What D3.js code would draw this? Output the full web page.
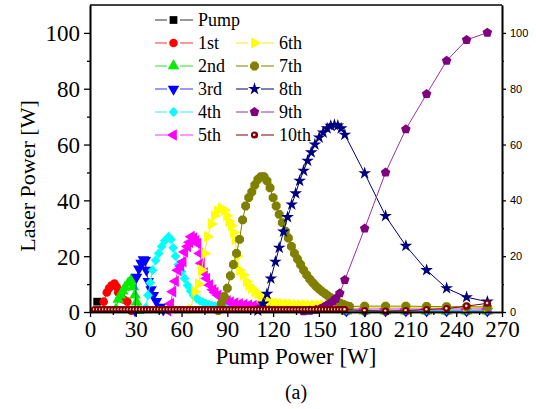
<!DOCTYPE html>
<html>
<head>
<meta charset="utf-8">
<script src="https://d3js.org/d3.v7.min.js"></script>
<style>
  body { margin: 0; background: #fff; }
</style>
</head>
<body>
<svg id="chart" width="536" height="409"></svg>
<script>
// series names (legend order)
var names = ["Pump", "1st", "2nd", "3rd", "4th", "5th", "6th", "7th", "8th", "9th", "10th"];

// [pump power W, laser power W]
var pump = [[4.7, 3.7]];
var s1 = [[9, 3.7], [11, 7], [12.5, 8.5], [14, 9.5], [16, 10.2], [17.5, 9], [18.5, 7], [20, 6], [22, 4.5], [24.5, 3.7], [27, 0.5],
          [168, 0.2], [180, 0.2], [193.7, 0.2], [207, 0.2], [220.6, 0.2], [233.7, 0.2], [246.8, 0.2], [260.4, 0.2]];
var s2 = [[17, 1], [18.5, 4.5], [20, 6], [21.5, 7.5], [23, 8.8], [25, 10.3], [27, 11.5], [28.5, 9], [29.5, 6], [30.5, 3.5], [32, 0.5],
          [168, 0.3], [180, 0.3], [193.7, 0.3], [207, 0.3], [220.6, 0.3], [233.7, 0.3], [246.8, 0.3], [260.4, 0.3]];
var s3 = [[29.5, 0.5], [30.5, 12.5], [32, 15.5], [33.5, 17.5], [35, 18.8], [36.2, 18.5], [37, 15], [38.2, 11], [40, 8], [41.5, 6],
          [43.5, 3.8], [46, 1.8], [48, 0.8],
          [168, 0.4], [180, 0.4], [193.7, 0.4], [207, 0.4], [220.6, 0.4], [233.7, 0.4], [246.8, 0.4], [260.4, 0.4]];
var s4 = [[36.5, 1.5], [38, 6], [39.5, 10.5], [41, 15], [43, 18.5], [45, 21], [47, 23.5], [49, 25.5], [51.5, 27], [53, 26],
          [54.5, 23], [56, 20], [58, 17], [60, 14.5], [62, 12], [64, 9.5], [66, 7.5], [68, 5.8], [70, 4.8], [72, 4],
          [74, 3.5], [76, 3], [78, 2.6], [80, 2.3], [82, 2.1], [84, 2], [86, 1.9], [88, 1.7], [90, 1.6], [92, 1.5],
          [168, 0.7], [180, 0.7], [193.7, 0.7], [207, 0.7], [220.6, 0.7], [233.7, 0.7], [246.8, 0.7], [260.4, 0.7]];
var s5 = [[51, 0.5], [52.8, 3], [54.3, 7.3], [56, 11], [57.6, 15], [59.5, 16.5], [61, 18], [62, 21.5], [64, 23.5], [65.3, 25],
          [66.4, 27], [68, 26.5], [69.5, 25.5], [70.7, 24.5], [72, 21], [73, 17.5], [75, 14], [76.5, 12], [78.4, 9.7], [80.6, 8],
          [82, 7], [84, 6], [86, 5.2], [88, 4.6], [90, 4], [92, 3.6], [95, 3.2], [98, 2.9], [101, 2.7], [104, 2.5],
          [107, 2.3], [110, 2.2], [113, 2.1], [116, 2], [119, 1.9], [122, 1.8],
          [168, 1.1], [180, 1.1], [193.7, 1.1], [207, 1.1], [220.6, 1.1], [233.7, 1.1], [246.8, 1.1], [260.4, 1.1]];
var s6 = [[66, 1], [68.6, 7.3], [71, 10], [73, 15], [75, 21], [77, 27], [79.5, 31.5], [81.5, 34.5], [83.5, 36.2], [86, 37.2],
          [88, 36.5], [89.5, 34.5], [91, 32.5], [92.7, 31], [94, 28.5], [95, 26], [96.5, 20], [98, 15], [100.3, 13.3], [102.5, 10.9],
          [104, 9.5], [105.8, 8.5], [108, 7.3], [110, 6.5], [112, 5], [114, 4.3], [117, 3.7], [120, 3.4], [123, 3.2], [126, 3],
          [129, 2.9], [132, 2.8], [135, 2.7], [138, 2.6], [141, 2.6], [144, 2.5], [147, 2.5], [150, 2.5], [153, 2.4], [156, 2.4],
          [159, 2.3], [162, 2.3], [165, 2.2], [168, 2],
          [180, 1.6], [193.7, 1.6], [207, 1.6], [220.6, 1.6], [233.7, 1.6], [246.8, 1.6], [260.4, 1.7]];
var s7 = [[84, 0.5], [86, 3], [88, 5.5], [90, 8.5], [92, 13], [94, 17], [96, 21], [98, 26], [100, 33], [102, 38],
          [104, 41], [106, 43], [108, 45.5], [110, 47.5], [112, 48.5], [114, 48.5], [116, 47], [118, 44.5], [120, 41], [122, 38],
          [124, 35], [126, 32], [128, 29], [130, 26.5], [132, 23.5], [134, 21], [136, 19], [138, 17], [140, 15], [142, 13.3],
          [144, 11.8], [146, 10.5], [148, 9.3], [150, 8.3], [152, 7.4], [154, 6.6], [156, 5.8], [158, 5], [160, 4.4], [162, 3.8],
          [164, 3.2], [166, 2.7], [168, 2.3], [170, 2],
          [180, 2.1], [193.7, 2.1], [207, 2.1], [220.6, 2], [233.7, 1.9], [246.8, 1.9], [260.4, 1.8]];
var s8 = [[110, 0.5], [112, 1.5], [113.5, 3], [116, 6.5], [118.5, 12], [121.5, 18], [124, 23], [126.8, 28.8], [129.5, 34], [132.2, 38.5],
          [134.8, 42.5], [137.4, 47], [140, 50.6], [142.6, 54.2], [145, 57.2], [147.4, 60], [150.2, 62.5], [152.8, 64.3], [155.4, 65.8], [157.8, 66.7],
          [160.2, 67], [162.4, 66.8], [164.6, 65.8], [167, 63.5],
          [180, 49.7], [193.7, 34.4], [207, 23.7], [220.6, 15], [233.7, 8.5], [246.8, 5.3], [260.4, 3.7]];
var s9 = [[140, 0.3], [144, 0.5], [148, 0.8], [151, 1.2], [153, 1.7], [155, 2.3], [157, 3], [159, 3.8], [161, 4.8], [163.7, 6.7],
          [167, 11.5], [180, 29.9], [193.7, 50], [207, 65.5], [220.6, 78.1], [233.7, 90], [246.8, 97.5], [260.4, 100.1]];
var s10 = [[3, 0.9], [5, 0.9], [7, 0.9], [9, 0.9], [11, 0.9], [13, 0.9], [15, 0.9], [17, 0.9], [19, 0.9], [21, 0.9],
           [23, 0.9], [25, 0.9], [27, 0.9], [29, 0.9], [31, 0.9], [33, 0.9], [35, 0.9], [37, 0.9], [39, 0.9], [41, 0.9],
           [43, 0.9], [45, 0.9], [47, 0.9], [49, 0.9], [51, 0.9], [53, 0.9], [55, 0.9], [57, 0.9], [59, 0.9], [61, 0.9],
           [63, 0.9], [65, 0.9], [67, 0.9], [69, 0.9], [71, 0.9], [73, 0.9], [75, 0.9], [77, 0.9], [79, 0.9], [81, 0.9],
           [83, 0.9], [85, 0.9], [87, 0.9], [89, 0.9], [91, 0.9], [93, 0.9], [95, 0.9], [97, 0.9], [99, 0.9], [101, 0.9],
           [103, 0.9], [105, 0.9], [107, 0.9], [109, 0.9], [111, 0.9], [113, 0.9], [115, 0.9], [117, 0.9], [119, 0.9], [121, 0.9],
           [123, 0.9], [125, 0.9], [127, 0.9], [129, 0.9], [131, 0.9], [133, 0.9], [135, 0.9], [137, 0.9], [139, 0.9], [141, 0.9],
           [143, 0.9], [145, 0.9], [147, 0.9], [149, 0.9], [151, 0.9], [153, 0.9], [155, 0.9], [157, 0.9], [159, 0.9], [161, 0.9],
           [163, 0.9], [165, 0.9], [167, 0.9],
           [180, 0.5], [193.7, 0.3], [207, 0.5], [220.6, 0.9], [233.7, 1.2], [246.8, 2.1], [260.4, 3.1]];

var xTicks = [0, 30, 60, 90, 120, 150, 180, 210, 240, 270];
var xMinor = [15, 45, 75, 105, 135, 165, 195, 225, 255];
var yTicks = [0, 20, 40, 60, 80, 100];
var yMinor = [10, 30, 50, 70, 90];

var allSeries = [pump, s1, s2, s3, s4, s5, s6, s7, s8, s9, s10];
var colors = ["#000000", "#ff0000", "#00ee00", "#0000ff", "#00ffff", "#ff00ff", "#ffff00", "#808000", "#000080", "#800080", "#800000"];
var lineColors = ["#333333", "#ff3333", "#33dd33", "#3333ff", "#33eeee", "#ff33ff", "#eeee33", "#808000", "#000080", "#993399", "#800000"];
var shapes = ["square", "circle", "up", "down", "diamond", "left", "right", "bigcircle", "star", "pentagon", "ball"];

var margin = {left: 90, right: 34, top: 5, bottom: 97};
var W = 536, H = 409;
var svg = d3.select("#chart");

var x = d3.scaleLinear().domain([0, 270]).range([margin.left, W - margin.right]);
var y = d3.scaleLinear().domain([0, 110]).range([H - margin.bottom, margin.top]);

var serif = "'Liberation Serif', 'Times New Roman', serif";

function polygon(n, r, rot) {
  var pts = [];
  for (var i = 0; i < n; i++) {
    var a = rot + i * 2 * Math.PI / n;
    pts.push([r * Math.cos(a), r * Math.sin(a)]);
  }
  return "M" + pts.map(function(p){ return p[0].toFixed(2) + "," + p[1].toFixed(2); }).join("L") + "Z";
}

// marker drawing into a group g
function marker(g, shape, color) {
  var tri = d3.symbol(d3.symbolTriangle, 58)();
  if (shape == "square") {
    g.append("path").attr("d", d3.symbol(d3.symbolSquare, 60)()).attr("fill", color);
  } else if (shape == "circle") {
    g.append("circle").attr("r", 4.3).attr("fill", color);
  } else if (shape == "bigcircle") {
    g.append("path").attr("d", polygon(8, 4.8, Math.PI / 8)).attr("fill", color);
  } else if (shape == "up") {
    g.append("path").attr("d", tri).attr("fill", color);
  } else if (shape == "down") {
    g.append("path").attr("d", tri).attr("transform", "rotate(180)").attr("fill", color);
  } else if (shape == "left") {
    g.append("path").attr("d", tri).attr("transform", "rotate(-90)").attr("fill", color);
  } else if (shape == "right") {
    g.append("path").attr("d", tri).attr("transform", "rotate(90)").attr("fill", color);
  } else if (shape == "diamond") {
    g.append("path").attr("d", d3.symbol(d3.symbolSquare, 48)()).attr("transform", "rotate(45)").attr("fill", color);
  } else if (shape == "star") {
    g.append("path").attr("d", d3.symbol(d3.symbolStar, 50)()).attr("fill", color);
  } else if (shape == "pentagon") {
    g.append("path").attr("d", polygon(5, 5, -Math.PI / 2)).attr("fill", color);
  } else if (shape == "ball") {
    g.append("circle").attr("r", 3.6).attr("fill", color);
    g.append("circle").attr("r", 1.3).attr("cx", -0.3).attr("cy", -0.3).attr("fill", "#f4dddd");
  }
}

var line = d3.line().x(function(d){ return x(d[0]); }).y(function(d){ return y(d[1]); });

// series: line then markers
allSeries.forEach(function(data, i) {
  var g = svg.append("g").attr("class", "series");
  g.append("path")
    .attr("d", line(data))
    .attr("fill", "none")
    .attr("stroke", lineColors[i])
    .attr("stroke-width", 1);
  g.selectAll("g.pt")
    .data(data)
    .enter()
    .append("g")
    .attr("class", "pt")
    .attr("transform", function(d){ return "translate(" + x(d[0]) + "," + y(d[1]) + ")"; })
    .each(function(){ marker(d3.select(this), shapes[i], colors[i]); });
});

// axes
var axisG = svg.append("g");
var bottom = axisG.append("g").attr("transform", "translate(0," + y(0) + ")")
  .call(d3.axisBottom(x).tickValues(xTicks).tickSize(5).tickSizeOuter(0).tickPadding(4));
axisG.append("g").attr("transform", "translate(0," + y(0) + ")")
  .call(d3.axisBottom(x).tickValues(xMinor).tickSize(3).tickSizeOuter(0).tickFormat(""));
var left = axisG.append("g").attr("transform", "translate(" + x(0) + ",0)")
  .call(d3.axisLeft(y).tickValues(yTicks).tickSize(6).tickSizeOuter(0).tickPadding(4));
axisG.append("g").attr("transform", "translate(" + x(0) + ",0)")
  .call(d3.axisLeft(y).tickValues(yMinor).tickSize(3).tickSizeOuter(0).tickFormat(""));
var right = axisG.append("g").attr("transform", "translate(" + x(270) + ",0)")
  .call(d3.axisRight(y).tickValues(yTicks).tickSize(4).tickSizeOuter(0).tickPadding(4));
axisG.append("g").attr("transform", "translate(" + x(270) + ",0)")
  .call(d3.axisRight(y).tickValues(yMinor).tickSize(2).tickSizeOuter(0).tickFormat(""));

axisG.selectAll(".domain").attr("stroke", "#000").attr("stroke-width", 1.6);
axisG.selectAll(".tick line").attr("stroke", "#000").attr("stroke-width", 1.3);
bottom.selectAll("text").attr("font-family", serif).attr("font-size", 23).attr("fill", "#000");
left.selectAll("text").attr("font-family", serif).attr("font-size", 23).attr("fill", "#000").attr("dy", "0.34em");
right.selectAll("text").attr("font-family", "'Liberation Sans', Arial, sans-serif").attr("font-size", 11).attr("fill", "#000");

// top frame line
svg.append("line")
  .attr("x1", x(0)).attr("x2", x(270))
  .attr("y1", y(110)).attr("y2", y(110))
  .attr("stroke", "#000").attr("stroke-width", 1.6);

// titles
svg.append("text")
  .attr("x", (x(0) + x(270)) / 2).attr("y", 364)
  .attr("text-anchor", "middle").attr("font-family", serif).attr("font-size", 23)
  .text("Pump Power [W]");
svg.append("text")
  .attr("transform", "translate(35,176) rotate(-90)")
  .attr("text-anchor", "middle").attr("font-family", serif).attr("font-size", 22)
  .text("Laser Power [W]");
svg.append("text")
  .attr("x", (x(0) + x(270)) / 2).attr("y", 399)
  .attr("text-anchor", "middle").attr("font-family", serif).attr("font-size", 20)
  .text("(a)");

// legend
var legend = svg.append("g").attr("class", "legend");
names.forEach(function(n, i) {
  var col = (i >= 6) ? 1 : 0;
  var row = (i >= 6) ? i - 5 : i;
  var lx = col ? 236 : 155;
  var ly = 20 + row * 23;
  var item = legend.append("g").attr("transform", "translate(" + lx + "," + ly + ")");
  item.append("line").attr("x1", 0).attr("x2", 12).attr("y1", 0).attr("y2", 0)
    .attr("stroke", lineColors[i]).attr("stroke-width", 1);
  item.append("line").attr("x1", 25).attr("x2", 38).attr("y1", 0).attr("y2", 0)
    .attr("stroke", lineColors[i]).attr("stroke-width", 1);
  marker(item.append("g").attr("transform", "translate(18.5,0)"), shapes[i], colors[i]);
  item.append("text").attr("x", 43).attr("y", 6)
    .attr("font-family", serif).attr("font-size", 18).attr("fill", "#000")
    .text(n);
});
</script>
</body>
</html>
